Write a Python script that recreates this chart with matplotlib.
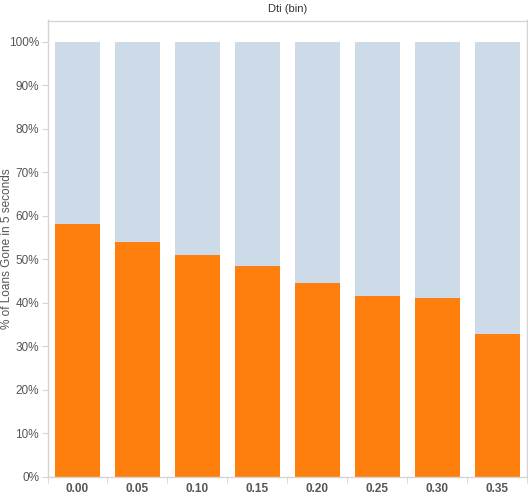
import matplotlib
matplotlib.use("Agg")
import matplotlib.pyplot as plt
import numpy as np

categories = ["0.00", "0.05", "0.10", "0.15", "0.20", "0.25", "0.30", "0.35"]
gone_pct = [58.1, 53.9, 50.9, 48.4, 44.5, 41.5, 41.0, 32.7]
rest_pct = [100 - v for v in gone_pct]
ytick_vals = [0, 10, 20, 30, 40, 50, 60, 70, 80, 90, 100]

plt.rcParams['font.family'] = ['Liberation Sans', 'DejaVu Sans']

W, H = 528, 497
fig = plt.figure(figsize=(W / 100, H / 100), dpi=100)
left, right, top, bottom = 47.5, 527, 20.5, 476.5
ax = fig.add_axes([left / W, (H - bottom) / H, (right - left) / W, (bottom - top) / H])

x = np.arange(len(categories))
orange = "#fe7f0e"
blue = "#ccdbe7"
ax.bar(x, gone_pct, width=0.75, color=orange, linewidth=0)
ax.bar(x, rest_pct, bottom=gone_pct, width=0.75, color=blue, linewidth=0)

ax.set_xlim(-0.5, len(categories) - 0.5)
ax.set_ylim(0, 100 * (bottom - top) / (bottom - 42))

spine_c = "#d4d4d4"
for s in ax.spines.values():
    s.set_color(spine_c)
    s.set_linewidth(1)

ax.set_yticks(ytick_vals)
ax.set_yticklabels([f"{v}%" for v in ytick_vals])
ax.tick_params(axis='y', length=4, color=spine_c, labelsize=8.5, labelcolor="#555555", pad=2)

ax.set_xticks(x)
ax.set_xticklabels(categories, fontweight='bold')
ax.tick_params(axis='x', which='major', length=0, labelsize=8.5, labelcolor="#555555", pad=5)
ax.set_xticks(np.arange(len(categories) + 1) - 0.5, minor=True)
ax.tick_params(axis='x', which='minor', length=4, color=spine_c)

fig.text(7.5 / W, 1 - (top + bottom) / 2 / H, "% of Loans Gone in 5 seconds", rotation=90,
         ha='center', va='center', fontsize=8.5, color="#555555")
fig.text((left + right) / 2 / W, 1 - 9 / H, "Dti (bin)", ha='center', va='center',
         fontsize=8, color="#333333")

fig.savefig("out.png", dpi=100)
